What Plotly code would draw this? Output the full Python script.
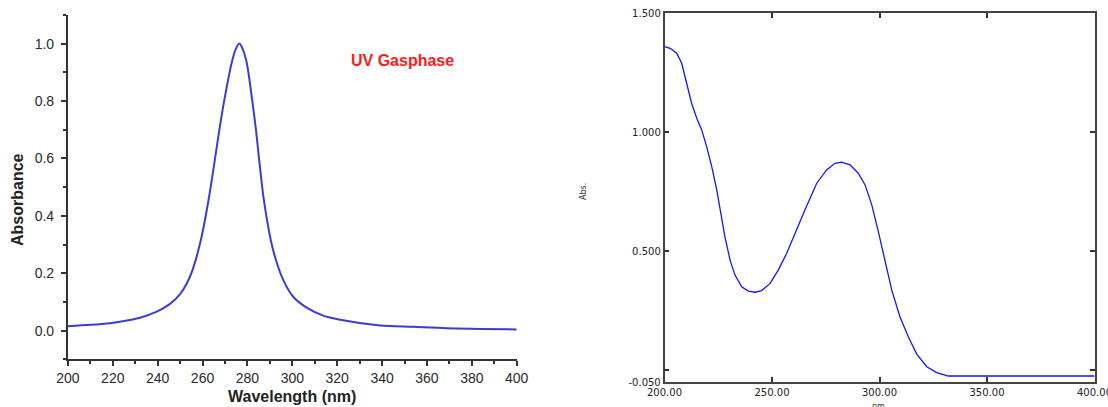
import plotly.graph_objects as go

# ---- Left panel: computed UV spectrum (gas phase) ----
wl_gas = [200, 210, 218.8, 223.2, 232.1, 239.6, 245.5, 250.0, 252.9, 255.2, 257.1, 258.9,
          260.3, 263.0, 265.2, 267.5, 270.0, 273.0, 274.7, 276.4, 278.0, 279.7, 281.9,
          283.8, 285.3, 287.1, 288.6, 290.4, 292.7, 296.0, 300.4, 306.4, 313.8, 321.3,
          339.1, 353.9, 368.8, 383.6, 400]
abs_gas = [0.015, 0.020, 0.026, 0.031, 0.045, 0.066, 0.093, 0.127, 0.163, 0.204, 0.250, 0.304,
           0.354, 0.470, 0.580, 0.700, 0.816, 0.933, 0.979, 1.000, 0.979, 0.933, 0.816,
           0.700, 0.590, 0.468, 0.392, 0.316, 0.246, 0.176, 0.118, 0.080, 0.052, 0.038,
           0.018, 0.013, 0.008, 0.006, 0.004]

# ---- Right panel: measured UV spectrum ----
wl_meas = [200, 202.6, 205.7, 208.0, 210.3, 212.6, 215.0, 217.3, 219.6, 222.0, 224.3, 225.8,
           228.1, 230.5, 232.8, 235.9, 239.0, 242.1, 245.2, 249.1, 252.9, 256.8, 260.7,
           265.3, 270.8, 275.4, 279.3, 282.4, 286.3, 290.1, 293.3, 296.4, 299.4, 302.6,
           305.7, 309.5, 313.4, 317.3, 322.0, 326.6, 332.0, 350, 375, 400]
abs_meas = [1.360, 1.353, 1.332, 1.290, 1.206, 1.122, 1.059, 1.010, 0.940, 0.855, 0.758, 0.674,
            0.561, 0.463, 0.400, 0.351, 0.333, 0.328, 0.335, 0.365, 0.421, 0.491, 0.576,
            0.674, 0.786, 0.842, 0.870, 0.875, 0.863, 0.828, 0.779, 0.695, 0.585, 0.463,
            0.337, 0.225, 0.141, 0.068, 0.015, -0.010, -0.024, -0.024, -0.024, -0.024]

left_xticks = [200, 220, 240, 260, 280, 300, 320, 340, 360, 380, 400]
left_yticks = [0.0, 0.2, 0.4, 0.6, 0.8, 1.0]
right_xticks = [200, 250, 300, 350, 400]
right_xtext = ["200.00", "250.00", "300.00", "350.00", "400.00"]
right_yticks = [-0.05, 0.0, 0.5, 1.0, 1.5]
right_ytext = ["-0.050", "", "0.500", "1.000", "1.500"]

W, H = 1108, 407
def px(x):
    return x / W
def py(y):
    return (H - y) / H

fig = go.Figure()
fig.add_trace(go.Scatter(x=wl_gas, y=abs_gas, mode="lines", xaxis="x", yaxis="y",
                         line=dict(color="#3c3cd4", width=2, shape="spline", smoothing=0.9),
                         showlegend=False, hoverinfo="skip"))
fig.add_trace(go.Scatter(x=wl_meas, y=abs_meas, mode="lines", xaxis="x2", yaxis="y2",
                         line=dict(color="#1414ff", width=1.3),
                         showlegend=False, hoverinfo="skip"))

lfont = dict(family="Liberation Sans, Arial", size=14, color="#2a2a2a")
rfont = dict(family="DejaVu Sans", size=10, color="#222222")

fig.update_layout(
    width=W, height=H,
    margin=dict(l=0, r=0, t=0, b=0),
    paper_bgcolor="white", plot_bgcolor="white",
    xaxis=dict(domain=[px(67.9), px(516.7)], range=[200, 400], anchor="y",
               tickvals=left_xticks, ticks="outside", ticklen=5, tickwidth=1.5, tickcolor="#333",
               minor=dict(dtick=10, tick0=200, ticks="outside", ticklen=3, tickcolor="#333", showgrid=False),
               showline=True, linecolor="#333", linewidth=2, showgrid=False, zeroline=False,
               tickfont=lfont, automargin=False),
    yaxis=dict(domain=[py(359.3), py(14.9)], range=[-0.1, 1.1], anchor="x",
               tickvals=left_yticks, tickformat=".1f", ticks="outside", ticklen=5, tickwidth=1.5,
               tickcolor="#333",
               minor=dict(dtick=0.1, tick0=0, ticks="outside", ticklen=3, tickcolor="#333", showgrid=False),
               showline=True, linecolor="#333", linewidth=2, showgrid=False, zeroline=False,
               tickfont=lfont, automargin=False, ticklabelstandoff=4),
    xaxis2=dict(domain=[px(664.5), px(1094.5)], range=[200, 400], anchor="y2",
                tickvals=right_xticks, ticktext=right_xtext, ticks="inside", ticklen=5,
                tickcolor="#333", tickwidth=1.5, ticklabeloverflow="allow",
                showline=True, mirror="ticks", linecolor="#444", linewidth=1.5,
                showgrid=False, zeroline=False, tickfont=rfont, automargin=False),
    yaxis2=dict(domain=[py(382.2), py(13.3)], range=[-0.05, 1.5], anchor="x2",
                tickvals=right_yticks, ticktext=right_ytext, ticks="inside", ticklen=5,
                tickcolor="#333", tickwidth=1.5,
                showline=True, mirror="ticks", linecolor="#444", linewidth=1.5,
                showgrid=False, zeroline=False, tickfont=rfont, automargin=False),
    annotations=[
        dict(text="<b>UV Gasphase</b>", x=px(402.5), y=py(61), xref="paper", yref="paper",
             showarrow=False, xanchor="center", yanchor="middle",
             font=dict(family="Liberation Sans, Arial", size=16, color="#ff1a1a")),
        dict(text="<b>Wavelength (nm)</b>", x=px(292.3), y=py(396), xref="paper", yref="paper",
             showarrow=False, xanchor="center", yanchor="middle",
             font=dict(family="Liberation Sans, Arial", size=16, color="#222222")),
        dict(text="<b>Absorbance</b>", x=px(18), y=py(200), xref="paper", yref="paper",
             showarrow=False, xanchor="center", yanchor="middle", textangle=-90,
             font=dict(family="Liberation Sans, Arial", size=16, color="#222222")),
        dict(text="Abs.", x=px(583), y=py(192), xref="paper", yref="paper",
             showarrow=False, xanchor="center", yanchor="middle", textangle=-90,
             font=dict(family="DejaVu Sans", size=8, color="#333333")),
        dict(text="nm.", x=px(879.5), y=py(400), xref="paper", yref="paper",
             showarrow=False, xanchor="center", yanchor="top",
             font=dict(family="DejaVu Sans", size=8, color="#333333")),
    ],
)

fig.write_html("out.html", config={"displayModeBar": False},
               post_script="document.body.style.margin='0';document.body.style.overflow='hidden';")
